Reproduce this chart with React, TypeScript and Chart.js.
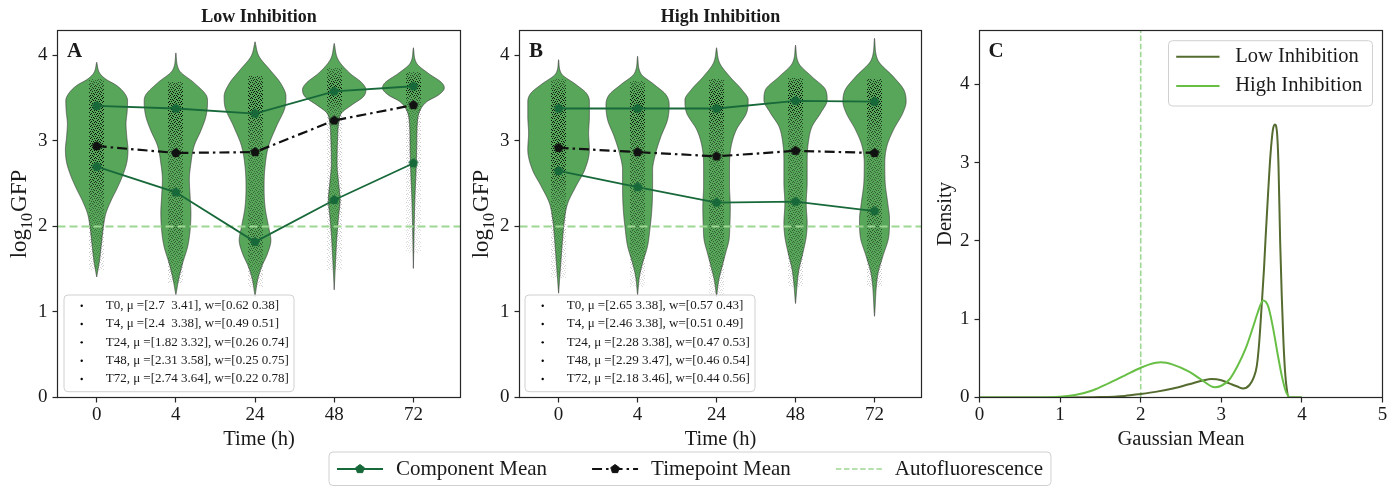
import React, { useEffect, useRef } from "react";
import { Chart, registerables } from "chart.js";
Chart.register(...registerables);

const SERIF = "'Liberation Serif', 'Times New Roman', Times, serif";

// ---------- data ----------
const TIME_LABELS = ["0", "4", "24", "48", "72"];
const TIME_POS = [0, 1, 2, 3, 4];
const Y_TICKS_AB = [0, 1, 2, 3, 4];
const X_TICKS_C = [0, 1, 2, 3, 4, 5];
const Y_TICKS_C = [0, 1, 2, 3, 4];
const AUTOFLUORESCENCE = 2;

// Low inhibition
const LOW_MU_LOW = [2.7, 2.4, 1.82, 2.31, 2.74];
const LOW_MU_HIGH = [3.41, 3.38, 3.32, 3.58, 3.64];
const LOW_TP_MEAN = [2.94, 2.86, 2.87, 3.24, 3.42];
const LOW_LEGEND = [
  "T0, μ =[2.7  3.41], w=[0.62 0.38]",
  "T4, μ =[2.4  3.38], w=[0.49 0.51]",
  "T24, μ =[1.82 3.32], w=[0.26 0.74]",
  "T48, μ =[2.31 3.58], w=[0.25 0.75]",
  "T72, μ =[2.74 3.64], w=[0.22 0.78]",
];
// violin profiles: [log10 GFP, half width]
const LOW_V_T0 = [[1.41, 0], [1.6, 0.035], [1.8, 0.06], [2.0, 0.085], [2.15, 0.115], [2.3, 0.18], [2.45, 0.26], [2.6, 0.33], [2.75, 0.38], [2.9, 0.395], [3.05, 0.38], [3.2, 0.37], [3.35, 0.385], [3.47, 0.39], [3.56, 0.35], [3.65, 0.25], [3.72, 0.12], [3.79, 0.04], [3.92, 0]];
const LOW_V_T4 = [[1.2, 0], [1.38, 0.035], [1.57, 0.085], [1.77, 0.15], [1.96, 0.18], [2.16, 0.19], [2.35, 0.18], [2.55, 0.17], [2.74, 0.19], [2.94, 0.23], [3.13, 0.32], [3.29, 0.38], [3.46, 0.4], [3.54, 0.38], [3.68, 0.23], [3.83, 0.04], [4.03, 0]];
const LOW_V_T24 = [[1.18, 0], [1.38, 0.034], [1.53, 0.084], [1.69, 0.16], [1.84, 0.2], [2.0, 0.17], [2.23, 0.126], [2.47, 0.114], [2.7, 0.126], [2.94, 0.17], [3.17, 0.27], [3.4, 0.38], [3.52, 0.39], [3.68, 0.32], [3.83, 0.19], [3.99, 0.05], [4.16, 0]];
const LOW_V_T48 = [[1.26, 0], [1.65, 0.02], [1.88, 0.034], [2.12, 0.055], [2.31, 0.074], [2.51, 0.055], [2.74, 0.036], [3.01, 0.042], [3.21, 0.057], [3.33, 0.095], [3.42, 0.22], [3.52, 0.37], [3.6, 0.4], [3.68, 0.35], [3.79, 0.2], [3.95, 0.05], [4.14, 0]];
const LOW_V_T72 = [[1.51, 0], [2.12, 0.013], [2.35, 0.02], [2.66, 0.034], [2.94, 0.042], [3.21, 0.05], [3.36, 0.085], [3.46, 0.17], [3.54, 0.32], [3.62, 0.39], [3.68, 0.36], [3.79, 0.19], [3.91, 0.04], [4.09, 0]];
const LOW_STRIPS = [[1.5, 3.72], [1.35, 3.68], [1.3, 3.75], [1.5, 3.85], [1.7, 3.8]];

// High inhibition
const HIGH_MU_LOW = [2.65, 2.46, 2.28, 2.29, 2.18];
const HIGH_MU_HIGH = [3.38, 3.38, 3.38, 3.47, 3.46];
const HIGH_TP_MEAN = [2.92, 2.87, 2.82, 2.885, 2.86];
const HIGH_LEGEND = [
  "T0, μ =[2.65 3.38], w=[0.57 0.43]",
  "T4, μ =[2.46 3.38], w=[0.51 0.49]",
  "T24, μ =[2.28 3.38], w=[0.47 0.53]",
  "T48, μ =[2.29 3.47], w=[0.46 0.54]",
  "T72, μ =[2.18 3.46], w=[0.44 0.56]",
];
const HIGH_V_T0 = [[1.22, 0], [1.65, 0.034], [1.88, 0.053], [2.08, 0.074], [2.27, 0.115], [2.47, 0.22], [2.66, 0.33], [2.9, 0.39], [3.09, 0.38], [3.29, 0.39], [3.46, 0.39], [3.56, 0.35], [3.66, 0.22], [3.79, 0.034], [3.95, 0]];
const HIGH_V_T4 = [[1.2, 0], [1.42, 0.025], [1.57, 0.063], [1.77, 0.126], [1.96, 0.155], [2.19, 0.18], [2.43, 0.19], [2.66, 0.19], [2.86, 0.23], [3.05, 0.295], [3.25, 0.38], [3.42, 0.4], [3.54, 0.36], [3.66, 0.21], [3.79, 0.04], [3.99, 0]];
const HIGH_V_T24 = [[1.18, 0], [1.38, 0.03], [1.53, 0.07], [1.69, 0.115], [1.84, 0.157], [2.0, 0.168], [2.23, 0.174], [2.47, 0.164], [2.7, 0.164], [2.94, 0.185], [3.13, 0.25], [3.33, 0.38], [3.48, 0.4], [3.6, 0.32], [3.75, 0.17], [3.91, 0.04], [4.09, 0]];
const HIGH_V_T48 = [[1.1, 0], [1.49, 0.042], [1.69, 0.093], [1.88, 0.135], [2.04, 0.147], [2.27, 0.135], [2.51, 0.147], [2.74, 0.147], [2.97, 0.16], [3.17, 0.21], [3.33, 0.32], [3.48, 0.4], [3.6, 0.38], [3.75, 0.21], [3.91, 0.04], [4.12, 0]];
const HIGH_V_T72 = [[0.95, 0], [1.45, 0.044], [1.65, 0.105], [1.88, 0.18], [2.08, 0.19], [2.27, 0.168], [2.51, 0.135], [2.74, 0.13], [2.94, 0.157], [3.13, 0.24], [3.33, 0.36], [3.46, 0.4], [3.6, 0.37], [3.75, 0.24], [3.95, 0.04], [4.2, 0]];
const HIGH_STRIPS = [[1.4, 3.72], [1.3, 3.7], [1.2, 3.72], [1.3, 3.73], [1.3, 3.72]];

// Panel C: density of Gaussian means
const DENS_X_LOW = [0, 1.0, 1.5, 1.8, 2.0, 2.2, 2.4, 2.6, 2.8, 2.88, 3.0, 3.1, 3.2, 3.27, 3.35, 3.4, 3.44, 3.47, 3.5, 3.53, 3.55, 3.58, 3.61, 3.64, 3.665, 3.69, 3.71, 3.73, 3.75, 3.77, 3.79, 3.81, 3.84, 3.9, 4.0];
const DENS_Y_LOW = [0, 0, 0.005, 0.02, 0.045, 0.075, 0.115, 0.17, 0.225, 0.235, 0.22, 0.18, 0.14, 0.115, 0.16, 0.25, 0.4, 0.7, 1.16, 1.65, 2.05, 2.6, 3.1, 3.42, 3.49, 3.4, 2.95, 2.0, 1.3, 0.74, 0.35, 0.13, 0.0, 0, 0];
const DENS_X_HIGH = [0, 0.8, 1.0, 1.2, 1.4, 1.6, 1.8, 2.0, 2.1, 2.25, 2.4, 2.6, 2.75, 2.92, 3.0, 3.1, 3.2, 3.3, 3.4, 3.45, 3.52, 3.58, 3.64, 3.7, 3.75, 3.8, 3.86, 4.0];
const DENS_Y_HIGH = [0, 0, 0.01, 0.035, 0.09, 0.18, 0.28, 0.38, 0.42, 0.45, 0.42, 0.33, 0.23, 0.13, 0.15, 0.23, 0.4, 0.62, 0.92, 1.08, 1.24, 1.17, 0.9, 0.55, 0.28, 0.08, 0.0, 0];

// ---------- styles ----------
const COMP = "#18693a";
const TP = "#111111";
const AF_COLOR = "#9dd793";
const VIOLIN_FILL = "rgb(88,166,90)";
const VIOLIN_EDGE = "rgba(60,60,60,0.85)";
const LOW_C = "#556b2f";
const HIGH_C = "#68bf45";
const TEXT = "#1a1a1a";
const FRAME = "#262626";
const STRIP_HALF = 0.095;
// speckle texture tile (12x12, columns per row) used to render the jittered observation strip
const SPECKLE_ROWS = [[1, 5, 9], [3, 7, 11], [0, 6, 10], [2, 4, 8], [5, 9, 11], [1, 3, 7], [0, 6, 10], [2, 4, 8], [1, 5, 11], [3, 7, 9], [0, 4, 10], [2, 6, 8]];

const X_MIN = -0.495, X_MAX = 4.595, Y_MAX_AB = 4.292, Y_MAX_C = 4.69;
const TOP = 30.5, BOTTOM = 397.5, CANVAS_H = 452;

function pentagon(color: string, r: number) {
  const c = document.createElement("canvas");
  const s = Math.ceil(2 * r + 3);
  c.width = s; c.height = s;
  const ctx = c.getContext("2d")!;
  ctx.beginPath();
  for (let k = 0; k < 5; k++) {
    const a = -Math.PI / 2 + (k * 2 * Math.PI) / 5;
    const px = s / 2 + r * Math.cos(a), py = s / 2 + r * Math.sin(a);
    if (k === 0) ctx.moveTo(px, py); else ctx.lineTo(px, py);
  }
  ctx.closePath();
  ctx.fillStyle = color; ctx.fill();
  ctx.strokeStyle = color; ctx.lineWidth = 1; ctx.stroke();
  return c;
}

function speckleTile() {
  const c = document.createElement("canvas");
  c.width = 12; c.height = 12;
  const ctx = c.getContext("2d")!;
  ctx.fillStyle = "rgba(0,0,0,0.95)";
  SPECKLE_ROWS.forEach((cols, y) => cols.forEach((x) => ctx.fillRect(x, y, 1, 1)));
  return c;
}

function monotone(xs: number[], ys: number[]) {
  const n = xs.length;
  const d: number[] = [], m: number[] = [];
  for (let i = 0; i < n - 1; i++) d[i] = (ys[i + 1] - ys[i]) / (xs[i + 1] - xs[i]);
  m[0] = d[0]; m[n - 1] = d[n - 2];
  for (let i = 1; i < n - 1; i++) m[i] = d[i - 1] * d[i] <= 0 ? 0 : (d[i - 1] + d[i]) / 2;
  for (let i = 0; i < n - 1; i++) {
    if (d[i] === 0) { m[i] = 0; m[i + 1] = 0; continue; }
    const a = m[i] / d[i], b = m[i + 1] / d[i], s = a * a + b * b;
    if (s > 9) { const t = 3 / Math.sqrt(s); m[i] = t * a * d[i]; m[i + 1] = t * b * d[i]; }
  }
  return (x: number) => {
    if (x <= xs[0]) return ys[0];
    if (x >= xs[n - 1]) return ys[n - 1];
    let i = 0;
    while (i < n - 2 && x > xs[i + 1]) i++;
    const h = xs[i + 1] - xs[i], t = (x - xs[i]) / h;
    const t2 = t * t, t3 = t2 * t;
    return (2 * t3 - 3 * t2 + 1) * ys[i] + (t3 - 2 * t2 + t) * h * m[i] + (-2 * t3 + 3 * t2) * ys[i + 1] + (t3 - t2) * h * m[i + 1];
  };
}

function drawViolins(chart: any, violins: number[][][], strips: number[][], tile: HTMLCanvasElement) {
  const { ctx, chartArea } = chart;
  const xs = chart.scales.x, ys = chart.scales.y;
  const unit = xs.getPixelForValue(1) - xs.getPixelForValue(0);
  const pattern = ctx.createPattern(tile, "repeat");
  ctx.save();
  ctx.beginPath();
  ctx.rect(chartArea.left, chartArea.top, chartArea.right - chartArea.left, chartArea.bottom - chartArea.top);
  ctx.clip();
  violins.forEach((prof, i) => {
    const f = monotone(prof.map((p) => p[0]), prof.map((p) => p[1]));
    const cx = xs.getPixelForValue(TIME_POS[i]);
    const lo = prof[0][0], hi = prof[prof.length - 1][0];
    const pLo = ys.getPixelForValue(lo), pHi = ys.getPixelForValue(hi);
    const steps = Math.ceil((pLo - pHi) * 2);
    const right: number[][] = [], left: number[][] = [];
    for (let k = 0; k <= steps; k++) {
      const py = pLo - ((pLo - pHi) * k) / steps;
      const v = ys.getValueForPixel(py);
      const w = Math.max(0, f(v)) * unit;
      right.push([cx + w, py]);
      left.push([cx - w, py]);
    }
    ctx.beginPath();
    right.forEach((p, k) => (k === 0 ? ctx.moveTo(p[0], p[1]) : ctx.lineTo(p[0], p[1])));
    for (let k = left.length - 1; k >= 0; k--) ctx.lineTo(left[k][0], left[k][1]);
    ctx.closePath();
    ctx.fillStyle = VIOLIN_FILL;
    ctx.fill();
    ctx.strokeStyle = VIOLIN_EDGE;
    ctx.lineWidth = 0.8;
    ctx.stroke();
    // jittered observations: speckled strip whose density follows the violin width
    const [s0, s1] = strips[i];
    const sw = STRIP_HALF * unit;
    const ps0 = ys.getPixelForValue(s0), ps1 = ys.getPixelForValue(s1);
    ctx.save();
    ctx.fillStyle = pattern;
    for (let py = Math.floor(ps1); py < ps0; py++) {
      const v = ys.getValueForPixel(py + 0.5);
      const d = v < lo || v > hi ? 0 : Math.max(0, Math.min(1, f(v) / 0.4));
      ctx.globalAlpha = 0.12 + 0.88 * d;
      ctx.fillRect(Math.round(cx - sw), py, Math.round(2 * sw), 1);
    }
    ctx.restore();
  });
  ctx.restore();
}

function frame(chart: any) {
  const { ctx, chartArea: a } = chart;
  ctx.save();
  ctx.strokeStyle = FRAME;
  ctx.lineWidth = 1.2;
  ctx.strokeRect(a.left, a.top, a.right - a.left, a.bottom - a.top);
  ctx.restore();
}

function text(ctx: any, s: string, x: number, y: number, font: string, align = "left", baseline = "alphabetic", color = TEXT) {
  ctx.save();
  ctx.font = font;
  ctx.fillStyle = color;
  ctx.textAlign = align;
  ctx.textBaseline = baseline;
  ctx.fillText(s, x, y);
  ctx.restore();
}

function drawLogLabel(ctx: any, bx: number, cy: number) {
  ctx.save();
  ctx.translate(bx, cy);
  ctx.rotate(-Math.PI / 2);
  ctx.fillStyle = TEXT;
  const big = `23px ${SERIF}`, small = `16px ${SERIF}`;
  ctx.font = big;
  const w1 = ctx.measureText("log").width;
  const w3 = ctx.measureText("GFP").width;
  ctx.font = small;
  const w2 = ctx.measureText("10").width;
  const total = w1 + w2 + w3 + 1;
  let x = -total / 2;
  ctx.textBaseline = "alphabetic";
  ctx.font = big; ctx.fillText("log", x, 0); x += w1;
  ctx.font = small; ctx.fillText("10", x, 6.5); x += w2 + 1;
  ctx.font = big; ctx.fillText("GFP", x, 0);
  ctx.restore();
}

function rotatedText(ctx: any, s: string, bx: number, cy: number, font: string) {
  ctx.save();
  ctx.translate(bx, cy);
  ctx.rotate(-Math.PI / 2);
  ctx.font = font;
  ctx.fillStyle = TEXT;
  ctx.textAlign = "center";
  ctx.textBaseline = "alphabetic";
  ctx.fillText(s, 0, 0);
  ctx.restore();
}

function legendBox(ctx: any, x: number, y: number, w: number, h: number) {
  ctx.save();
  ctx.beginPath();
  ctx.roundRect(x, y, w, h, 4);
  ctx.fillStyle = "rgba(255,255,255,0.8)";
  ctx.fill();
  ctx.strokeStyle = "#d0d0d0";
  ctx.lineWidth = 1;
  ctx.stroke();
  ctx.restore();
}

const axisBase = (ticks: number[], labels: ((v: number) => string), fitKey: "width" | "height", fitVal: number) => ({
  type: "linear",
  afterBuildTicks: (axis: any) => { axis.ticks = ticks.map((v) => ({ value: v })); },
  afterFit: (axis: any) => { axis[fitKey] = fitVal; },
  grid: { drawOnChartArea: false, drawTicks: true, tickLength: 5, tickColor: FRAME, tickWidth: 1.2 },
  border: { display: false },
  ticks: { callback: (v: number) => labels(v), autoSkip: false, maxRotation: 0, color: TEXT, font: { family: SERIF, size: 19 }, padding: fitKey === "height" ? 1 : 5 },
});

type Panel = {
  title: string; letter: string; muLow: number[]; muHigh: number[]; tp: number[];
  violins: number[][][]; strips: number[][]; legend: string[]; yWidth: number; padRight: number; legendDx: number;
};

function violinChart(canvas: HTMLCanvasElement, p: Panel, pents: any, tile: HTMLCanvasElement) {
  const pts = (arr: number[]) => TIME_POS.map((x, i) => ({ x, y: arr[i] }));
  const plugin = {
    id: "panel" + p.letter,
    beforeDatasetsDraw(chart: any) { drawViolins(chart, p.violins, p.strips, tile); },
    afterDatasetsDraw(chart: any) {
      const { ctx, chartArea: a } = chart;
      const bx = a.left + p.legendDx, by = a.bottom - 102.5;
      legendBox(ctx, bx, by, 230, 96.7);
      p.legend.forEach((s, i) => {
        const cy = by + 10.7 + i * 18.33;
        ctx.save();
        ctx.beginPath(); ctx.arc(bx + 17.7, cy, 1.2, 0, Math.PI * 2); ctx.fillStyle = "#000"; ctx.fill();
        ctx.restore();
        text(ctx, s, bx + 41.7, cy, `13px ${SERIF}`, "left", "middle");
      });
    },
    afterDraw(chart: any) {
      const { ctx, chartArea: a } = chart;
      frame(chart);
      const cx = (a.left + a.right) / 2;
      text(ctx, p.title, cx, 22.3, `bold 18px ${SERIF}`, "center");
      text(ctx, p.letter, a.left + 9.5, 56.7, `bold 21px ${SERIF}`);
      text(ctx, "Time (h)", cx, 445, `20.5px ${SERIF}`, "center");
      drawLogLabel(ctx, a.left - 32, (a.top + a.bottom) / 2);
    },
  };
  return new Chart(canvas, {
    type: "scatter",
    data: {
      datasets: [
        { label: "Timepoint Mean", data: pts(p.tp), showLine: true, borderColor: TP, backgroundColor: TP, borderWidth: 2.2, borderDash: [10, 4, 2.5, 4], pointStyle: pents.black, pointRadius: 4, order: 0 },
        { label: "Component Mean", data: pts(p.muHigh), showLine: true, borderColor: COMP, backgroundColor: COMP, borderWidth: 1.8, pointStyle: pents.green, pointRadius: 4, order: 1 },
        { label: "Component Mean", data: pts(p.muLow), showLine: true, borderColor: COMP, backgroundColor: COMP, borderWidth: 1.8, pointStyle: pents.green, pointRadius: 4, order: 2 },
        { label: "Autofluorescence", data: [{ x: X_MIN, y: AUTOFLUORESCENCE }, { x: X_MAX, y: AUTOFLUORESCENCE }], showLine: true, borderColor: AF_COLOR, borderWidth: 1.8, borderDash: [8, 4], pointRadius: 0, order: 3 },
      ],
    } as any,
    options: {
      responsive: false, animation: false, devicePixelRatio: 1, events: [],
      layout: { padding: { left: 0, top: TOP, right: p.padRight, bottom: 0 } },
      plugins: { legend: { display: false }, tooltip: { enabled: false } },
      scales: {
        x: { ...axisBase(TIME_POS, (v) => TIME_LABELS[TIME_POS.indexOf(v)] ?? "", "height", CANVAS_H - BOTTOM), min: X_MIN, max: X_MAX },
        y: { ...axisBase(Y_TICKS_AB, (v) => String(v), "width", p.yWidth), min: 0, max: Y_MAX_AB },
      },
    } as any,
    plugins: [plugin],
  });
}

function densityChart(canvas: HTMLCanvasElement) {
  const pts = (xs: number[], ys: number[]) => xs.map((x, i) => ({ x, y: ys[i] }));
  const plugin = {
    id: "panelC",
    afterDraw(chart: any) {
      const { ctx, chartArea: a } = chart;
      frame(chart);
      text(ctx, "C", a.left + 9, 56.7, `bold 21px ${SERIF}`);
      text(ctx, "Gaussian Mean", (a.left + a.right) / 2, 445, `20.5px ${SERIF}`, "center");
      rotatedText(ctx, "Density", a.left - 28.5, (a.top + a.bottom) / 2, `20.5px ${SERIF}`);
      const bx = a.right - 214, by = 40.7;
      legendBox(ctx, bx, by, 204, 65.3);
      const rows: [string, string][] = [["Low Inhibition", LOW_C], ["High Inhibition", HIGH_C]];
      rows.forEach(([s, c], i) => {
        const cy = 56.7 + i * 29.3;
        ctx.save();
        ctx.strokeStyle = c; ctx.lineWidth = 2;
        ctx.beginPath(); ctx.moveTo(bx + 7.7, cy); ctx.lineTo(bx + 51, cy); ctx.stroke();
        ctx.restore();
        text(ctx, s, bx + 66.7, cy, `20.5px ${SERIF}`, "left", "middle");
      });
    },
  };
  return new Chart(canvas, {
    type: "scatter",
    data: {
      datasets: [
        { label: "Low Inhibition", data: pts(DENS_X_LOW, DENS_Y_LOW), showLine: true, borderColor: LOW_C, borderWidth: 2, pointRadius: 0, cubicInterpolationMode: "monotone", order: 1 },
        { label: "High Inhibition", data: pts(DENS_X_HIGH, DENS_Y_HIGH), showLine: true, borderColor: HIGH_C, borderWidth: 2, pointRadius: 0, cubicInterpolationMode: "monotone", order: 0 },
        { label: "Autofluorescence", data: [{ x: AUTOFLUORESCENCE, y: 0 }, { x: AUTOFLUORESCENCE, y: Y_MAX_C }], showLine: true, borderColor: AF_COLOR, borderWidth: 1.6, borderDash: [5.5, 2.6], pointRadius: 0, order: 2 },
      ],
    } as any,
    options: {
      responsive: false, animation: false, devicePixelRatio: 1, events: [],
      layout: { padding: { left: 0, top: TOP, right: 15.5, bottom: 0 } },
      plugins: { legend: { display: false }, tooltip: { enabled: false } },
      scales: {
        x: { ...axisBase(X_TICKS_C, (v) => String(v), "height", CANVAS_H - BOTTOM), min: 0, max: 5 },
        y: { ...axisBase(Y_TICKS_C, (v) => String(v), "width", 49.5), min: 0, max: Y_MAX_C },
      },
    } as any,
    plugins: [plugin],
  });
}

function drawBottomLegend(canvas: HTMLCanvasElement, pents: any) {
  const ctx = canvas.getContext("2d")!;
  ctx.clearRect(0, 0, canvas.width, canvas.height);
  const font = `21px ${SERIF}`;
  ctx.font = font;
  const items = [
    { label: "Component Mean", kind: "comp" },
    { label: "Timepoint Mean", kind: "tp" },
    { label: "Autofluorescence", kind: "af" },
  ];
  const handle = 46, pad = 13, colSp = 45, border = 8;
  const widths = items.map((it) => ctx.measureText(it.label).width);
  const total = border * 2 + items.reduce((s, _, i) => s + handle + pad + widths[i], 0) + colSp * (items.length - 1);
  const left = 329;
  const cy = 23;
  legendBox(ctx, left, 6, total, 33.5);
  let x = left + border;
  items.forEach((it, i) => {
    ctx.save();
    if (it.kind === "comp") {
      ctx.strokeStyle = COMP; ctx.lineWidth = 1.8;
      ctx.beginPath(); ctx.moveTo(x, cy); ctx.lineTo(x + handle, cy); ctx.stroke();
      ctx.drawImage(pents.green, x + handle / 2 - pents.green.width / 2, cy - pents.green.height / 2);
    } else if (it.kind === "tp") {
      ctx.strokeStyle = TP; ctx.lineWidth = 2.2; ctx.setLineDash([10, 4, 2.5, 4]);
      ctx.beginPath(); ctx.moveTo(x, cy); ctx.lineTo(x + handle, cy); ctx.stroke();
      ctx.drawImage(pents.black, x + handle / 2 - pents.black.width / 2, cy - pents.black.height / 2);
    } else {
      ctx.strokeStyle = AF_COLOR; ctx.lineWidth = 1.6; ctx.setLineDash([5.5, 2.6]);
      ctx.beginPath(); ctx.moveTo(x, cy); ctx.lineTo(x + handle, cy); ctx.stroke();
    }
    ctx.restore();
    text(ctx, it.label, x + handle + pad, cy, font, "left", "middle");
    x += handle + pad + widths[i] + colSp;
  });
}

export default function App() {
  const refA = useRef<HTMLCanvasElement>(null);
  const refB = useRef<HTMLCanvasElement>(null);
  const refC = useRef<HTMLCanvasElement>(null);
  const refL = useRef<HTMLCanvasElement>(null);

  useEffect(() => {
    const pents = { green: pentagon(COMP, 4.5), black: pentagon(TP, 4.5) };
    const tile = speckleTile();
    const a = violinChart(refA.current!, {
      title: "Low Inhibition", letter: "A", muLow: LOW_MU_LOW, muHigh: LOW_MU_HIGH, tp: LOW_TP_MEAN,
      violins: [LOW_V_T0, LOW_V_T4, LOW_V_T24, LOW_V_T48, LOW_V_T72], strips: LOW_STRIPS, legend: LOW_LEGEND,
      yWidth: 57.5, padRight: 9.5, legendDx: 6.5,
    }, pents, tile);
    const b = violinChart(refB.current!, {
      title: "High Inhibition", letter: "B", muLow: HIGH_MU_LOW, muHigh: HIGH_MU_HIGH, tp: HIGH_TP_MEAN,
      violins: [HIGH_V_T0, HIGH_V_T4, HIGH_V_T24, HIGH_V_T48, HIGH_V_T72], strips: HIGH_STRIPS, legend: HIGH_LEGEND,
      yWidth: 49.5, padRight: 18.5, legendDx: 5.5,
    }, pents, tile);
    const c = densityChart(refC.current!);
    drawBottomLegend(refL.current!, pents);
    return () => { a.destroy(); b.destroy(); c.destroy(); };
  }, []);

  const abs = (left: number, top: number, w: number, h: number): React.CSSProperties => ({ position: "absolute", left, top, width: w, height: h });
  return (
    <div style={{ position: "absolute", left: 0, top: 0, width: 1398, height: 486, background: "#fff", overflow: "hidden" }}>
      <canvas ref={refA} width={470} height={CANVAS_H} style={abs(0, 0, 470, CANVAS_H)} />
      <canvas ref={refB} width={470} height={CANVAS_H} style={abs(470, 0, 470, CANVAS_H)} />
      <canvas ref={refC} width={468} height={CANVAS_H} style={abs(930, 0, 468, CANVAS_H)} />
      <canvas ref={refL} width={1398} height={40} style={abs(0, 446, 1398, 40)} />
    </div>
  );
}
